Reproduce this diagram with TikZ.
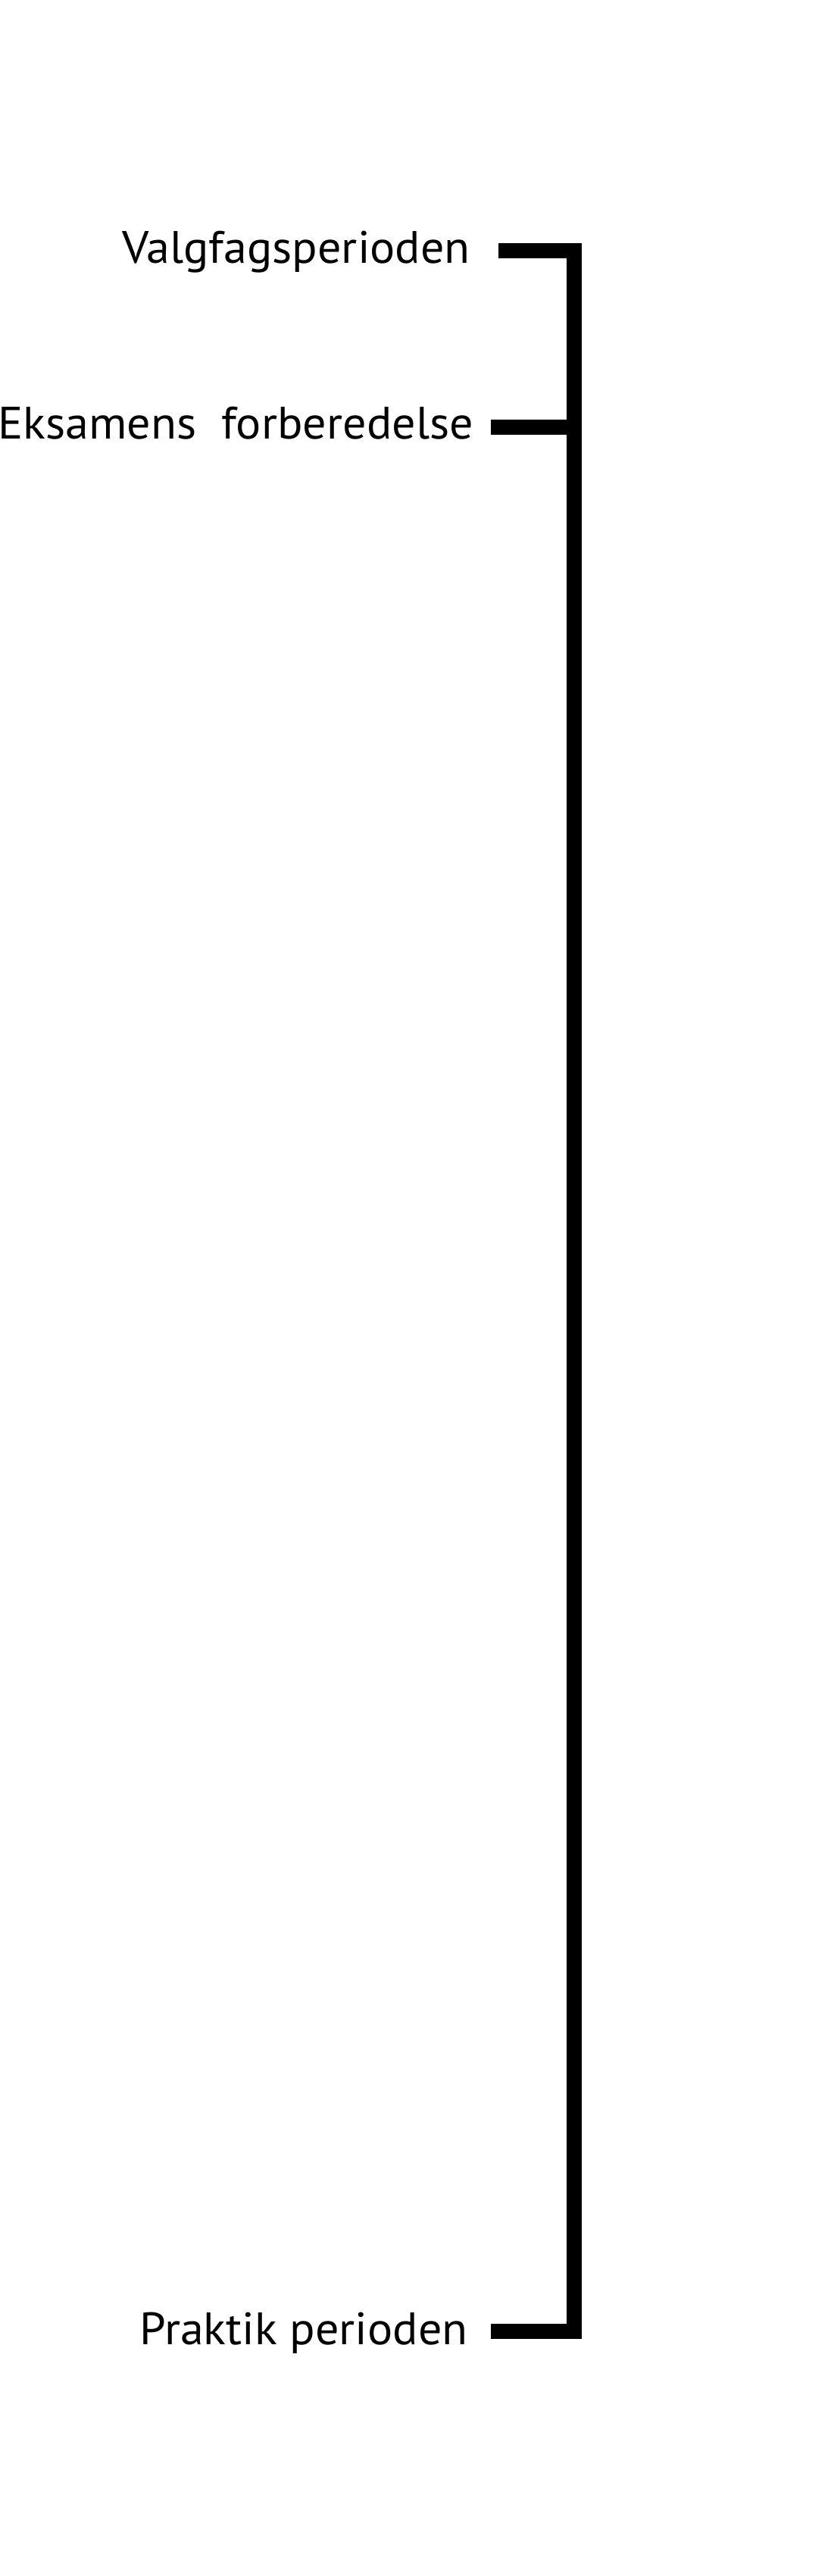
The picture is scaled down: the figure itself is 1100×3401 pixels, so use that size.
\documentclass[tikz,border=0pt]{standalone}
\usepackage{fontspec}
\setmainfont{PT Sans}
\newcommand{\lbltext}[1]{\scalebox{1.035}[1]{#1}}
\begin{document}
\begin{tikzpicture}[x=1pt,y=-1pt,
  lbl/.style={anchor=base east,inner sep=0pt,font=\fontsize{60}{62}\selectfont},
  bar/.style={line width=20pt,line join=miter,line cap=butt,black}]
\useasboundingbox (0,0) rectangle (1100,3401);
\node[lbl] (valg) at (621,347) {\lbltext{Valgfagsperioden}};
\node[lbl] (eks) at (625,579) {\lbltext{Eksamens\ \ forberedelse}};
\node[lbl] (prak) at (618,3095) {\lbltext{Praktik perioden}};
\coordinate (topL) at (658,331);
\coordinate (topC) at (758,331);
\coordinate (midL) at (648,564);
\coordinate (midC) at (758,564);
\coordinate (botL) at (648,3078);
\coordinate (botC) at (758,3078);
\draw[bar] (topL) -- (topC) -- (botC) -- (botL);
\draw[bar] (midL) -- (midC);
\end{tikzpicture}
\end{document}
